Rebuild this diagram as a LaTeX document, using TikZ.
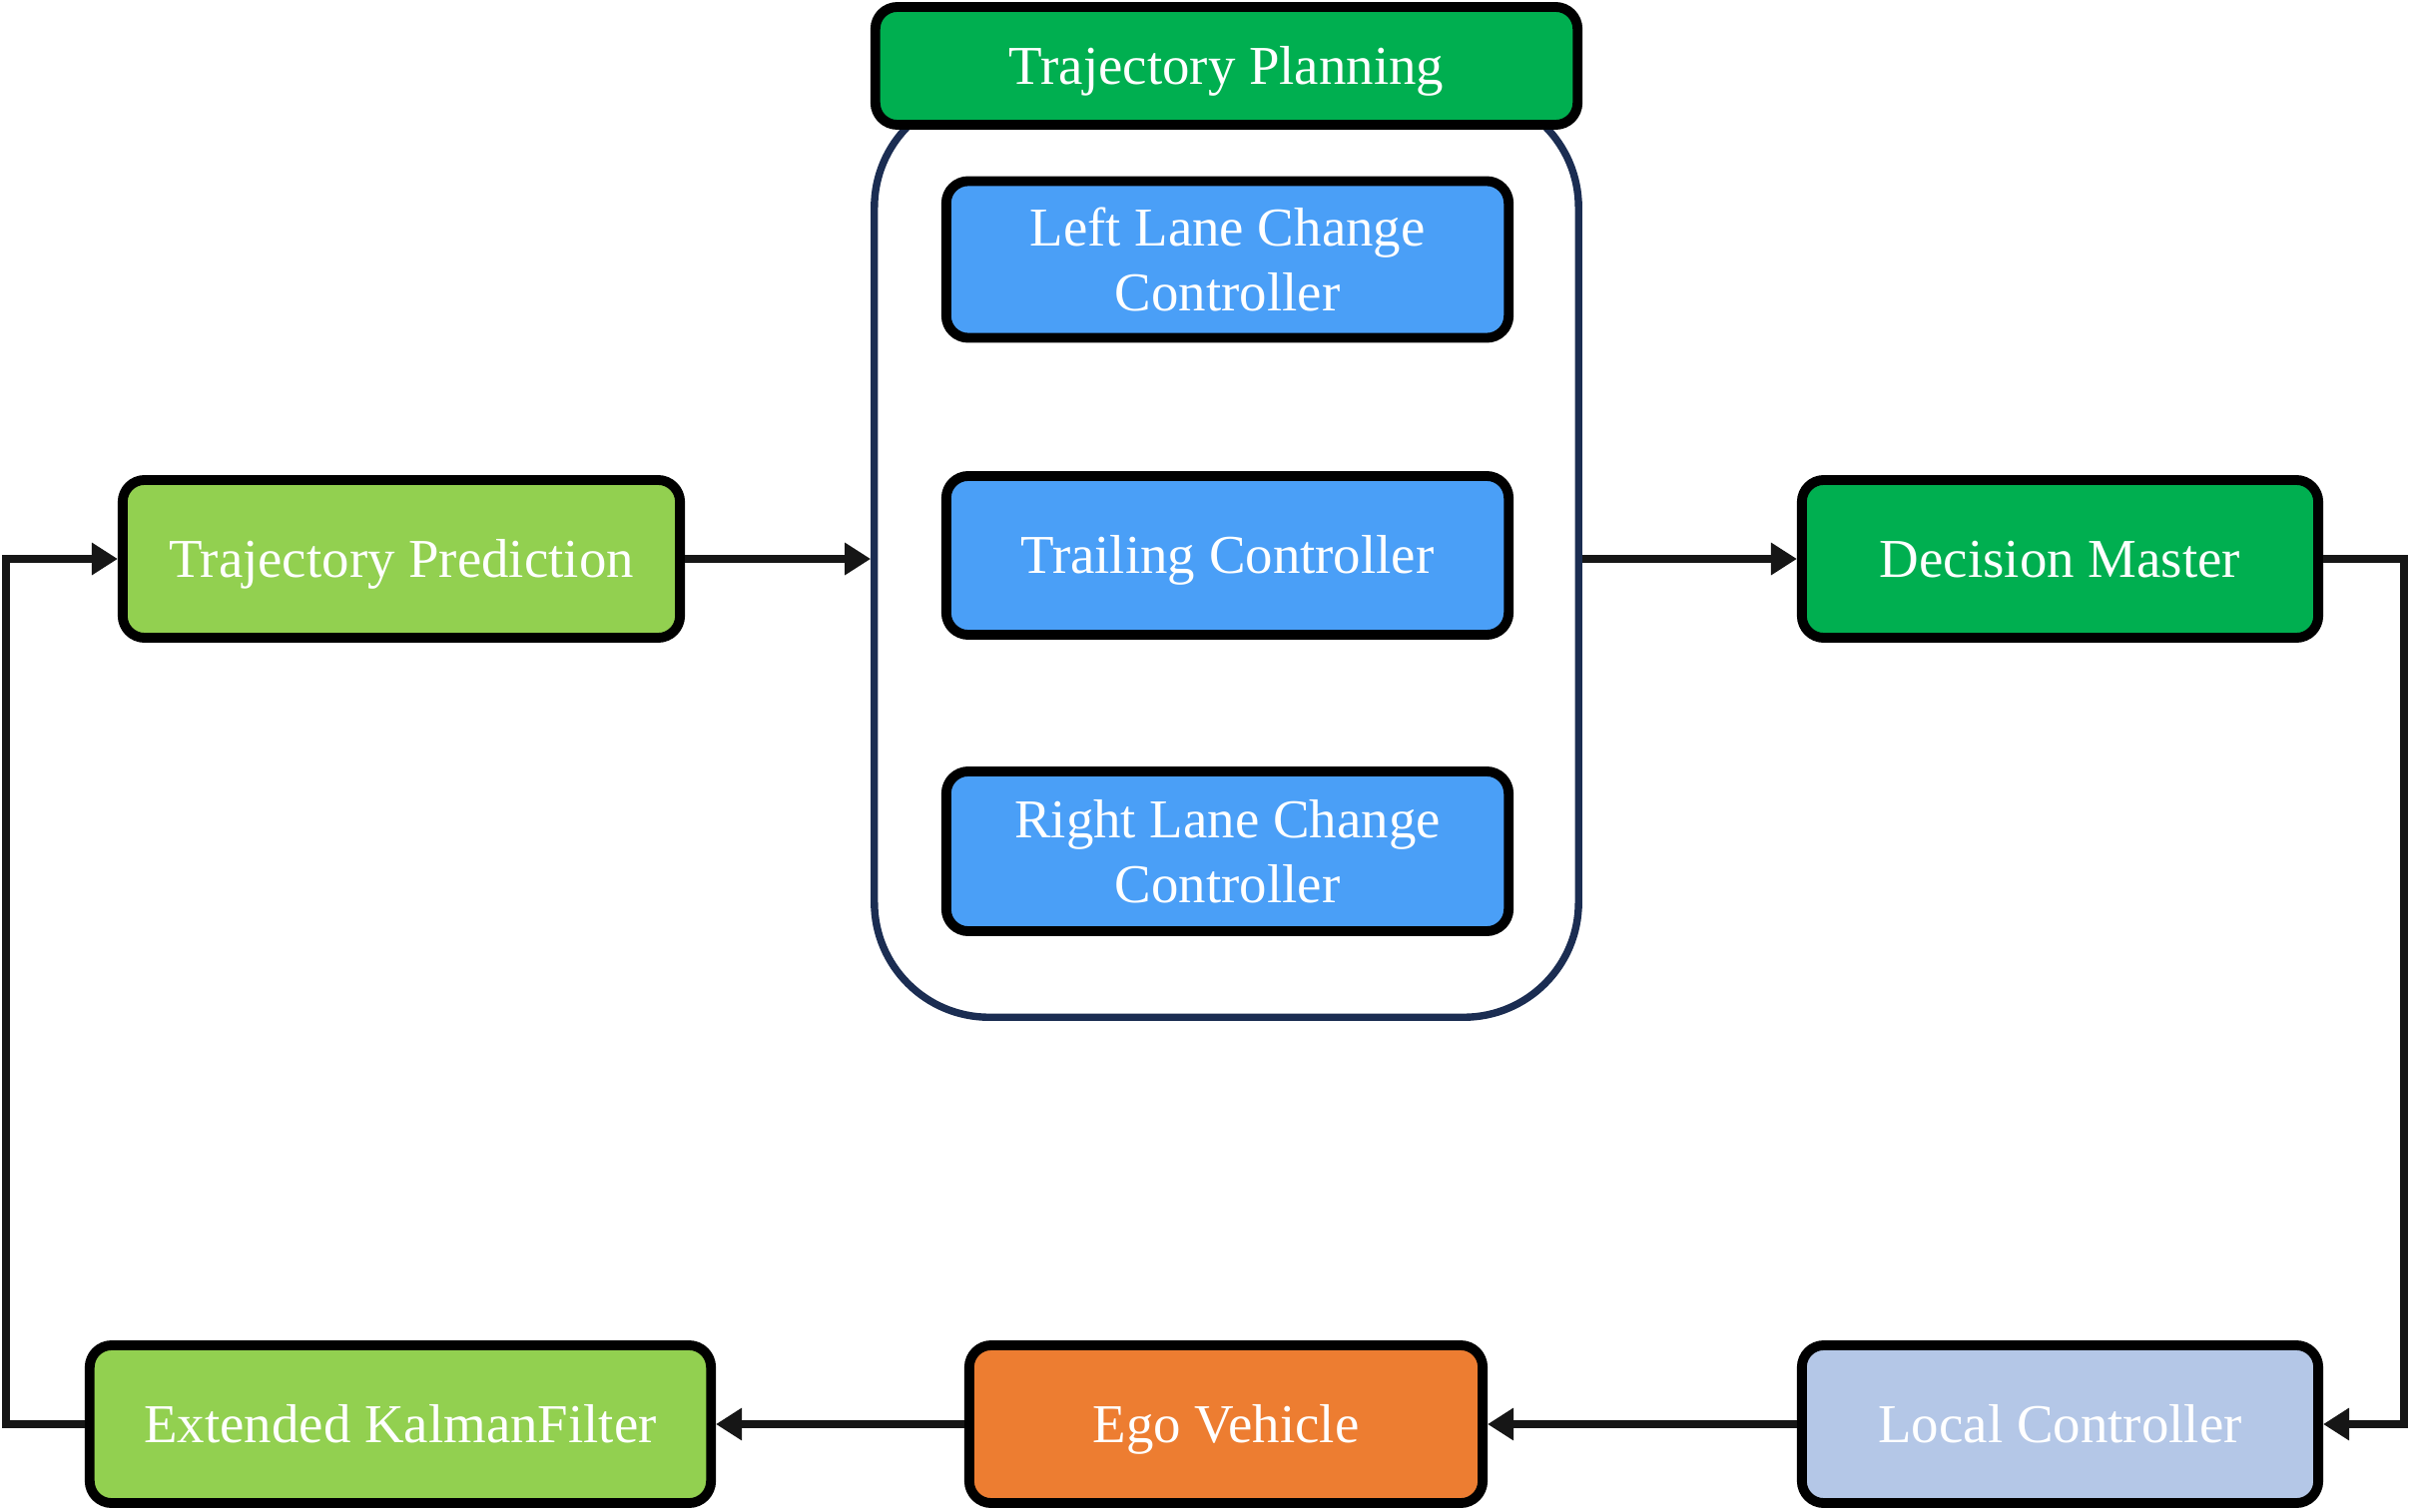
\documentclass[tikz,border=0pt]{standalone}
\usepackage{fontspec}
\setmainfont{Liberation Serif}
\usetikzlibrary{arrows.meta,positioning}
\definecolor{hdrgreen}{HTML}{00AF50}
\definecolor{ltgreen}{HTML}{92D050}
\definecolor{ctrlblue}{HTML}{4A9FF7}
\definecolor{egoorange}{HTML}{ED7D31}
\definecolor{lcblue}{HTML}{B4C7E7}
\definecolor{navy}{HTML}{1B2D52}
\definecolor{conncol}{HTML}{161616}
\tikzset{
  blk/.style={draw=black, line width=2.8pt, rounded corners=0.22cm, text=white,
    font=\fontsize{15.6}{18.5}\selectfont, align=center, inner sep=0pt},
  oneline/.style={text height=10.3pt, text depth=0pt},
  conn/.style={draw=conncol, line width=2.5pt, -{Triangle[length=0.26cm,width=0.31cm]}},
}
\begin{document}
\begin{tikzpicture}[x=0.01cm,y=-0.01cm]
\useasboundingbox (0,0) rectangle (2414,1515);
% container
\node[draw=navy, line width=2.1pt, rounded corners=1.15cm, fill=white,
  minimum width=7.05cm, minimum height=9.26cm, inner sep=0pt] (tpbox) at (1228.5,556) {};
% header
\node[blk, oneline, fill=hdrgreen, minimum width=7.03cm, minimum height=1.18cm] (hdr) at (1228.5,66) {Trajectory Planning};
% controllers
\node[blk, fill=ctrlblue, minimum width=5.63cm, minimum height=1.57cm] (llc) at (1229.5,260) {Left Lane Change\\Controller};
\node[blk, oneline, fill=ctrlblue, minimum width=5.63cm, minimum height=1.59cm] (trc) at (1229.5,556.5) {Trailing Controller};
\node[blk, fill=ctrlblue, minimum width=5.63cm, minimum height=1.60cm] (rlc) at (1229.5,853) {Right Lane Change\\Controller};
% outer blocks
\node[blk, oneline, fill=ltgreen, minimum width=5.58cm, minimum height=1.58cm] (tp) at (402,560) {Trajectory Prediction};
\node[blk, oneline, fill=hdrgreen, minimum width=5.17cm, minimum height=1.58cm] (dm) at (2063.5,560) {Decision Master};
\node[blk, oneline, fill=ltgreen, minimum width=6.22cm, minimum height=1.58cm] (ekf) at (401,1427) {Extended KalmanFilter};
\node[blk, oneline, fill=egoorange, minimum width=5.14cm, minimum height=1.58cm] (ego) at (1228,1427) {Ego Vehicle};
\node[blk, oneline, fill=lcblue, minimum width=5.17cm, minimum height=1.58cm] (lc) at (2063.5,1427) {Local Controller};
% turn coordinates
\coordinate (lx) at (6,0);
\coordinate (rx) at (2408,0);
% connectors
\draw[conn] (tp.east) -- (tp.east -| tpbox.west);
\draw[conn] (tpbox.east |- dm.west) -- (dm.west);
\draw[conn] (dm.east) -- (dm.east -| rx) |- (lc.east);
\draw[conn] (lc.west) -- (ego.east);
\draw[conn] (ego.west) -- (ekf.east);
\draw[conn] (ekf.west) -- (ekf.west -| lx) |- (tp.west);
\end{tikzpicture}
\end{document}
